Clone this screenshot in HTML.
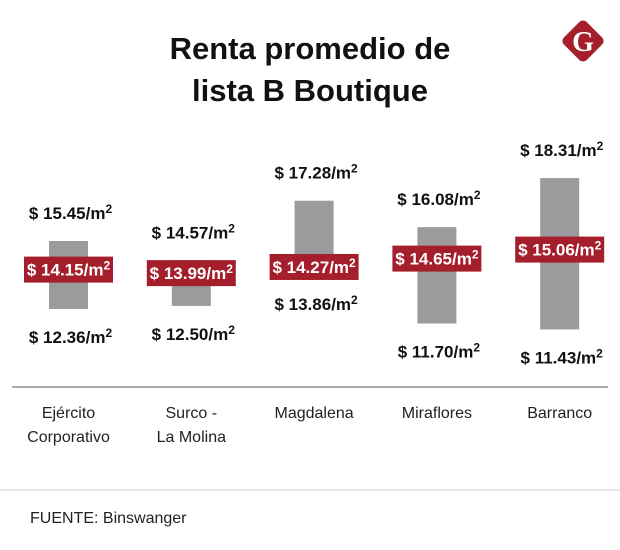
<!DOCTYPE html>
<html><head><meta charset="utf-8"><style>
body{margin:0;background:#fff;font-family:"Liberation Sans",sans-serif;}
svg{display:block}
</style></head><body>
<svg width="620" height="550">
<text x="310" y="59" text-anchor="middle" font-size="31" font-weight="bold" fill="#111">Renta promedio de</text>
<text x="310" y="101" text-anchor="middle" font-size="31" font-weight="bold" fill="#111">lista B Boutique</text>
<g>
<rect x="567" y="25" width="32" height="32" rx="5" fill="#a51e2b" transform="rotate(45 583 41)"/>
<text x="583" y="51" text-anchor="middle" font-size="28" font-weight="bold" fill="#fff" font-family="Liberation Serif,serif">G</text>
</g>
<g id="bars"></g>
<line x1="12" y1="387" x2="608" y2="387" stroke="#555" stroke-width="1"/>
<line x1="0" y1="490" x2="620" y2="490" stroke="#ccc" stroke-width="1"/>
<text x="30" y="523" font-size="16" fill="#222">FUENTE: Binswanger</text>
</svg>
<script>
const categories=[["Ejército","Corporativo"],["Surco -","La Molina"],["Magdalena"],["Miraflores"],["Barranco"]];
const maxVals=[15.45,14.57,17.28,16.08,18.31];
const minVals=[12.36,12.50,13.86,11.70,11.43];
const avgVals=[14.15,13.99,14.27,14.65,15.06];
const NS="http://www.w3.org/2000/svg";
const g=document.getElementById('bars');
const y=v=>241-(v-15.45)*22;
const x=i=>68.5+i*122.8;
function mk(t,a){const e=document.createElementNS(NS,t);for(const k in a)e.setAttribute(k,a[k]);g.appendChild(e);return e;}
function lbl(cx,cy,v,fill,name){
const t=mk('text',{x:cx+2,y:cy,'text-anchor':'middle','font-size':17,'font-weight':'bold',fill:fill});


t.textContent='$ '+v.toFixed(2)+'/m';
const s=document.createElementNS(NS,'tspan');s.setAttribute('dy','-6');s.setAttribute('font-size','12');s.textContent='2';t.appendChild(s);
}
categories.forEach((c,i)=>{
const cx=x(i),t=y(maxVals[i]),b=y(minVals[i]),a=y(avgVals[i]);
const r=mk('rect',{x:cx-19.5,y:t,width:39,height:b-t,fill:'#9b9b9d'});


lbl(cx,t-22,maxVals[i],'#111','max-label');
lbl(cx,b+34,minVals[i],'#111','min-label');
const bx=mk('rect',{x:cx-44.5,y:a-13,width:89,height:26,fill:'#a51e2b'});


lbl(cx-2,a+6,avgVals[i],'#fff','avg-label');
c.forEach((ln,j)=>{const tt=mk('text',{x:cx,y:418+j*24,'text-anchor':'middle','font-size':16,fill:'#222'});


tt.textContent=ln;});
});
</script>
</body></html>
